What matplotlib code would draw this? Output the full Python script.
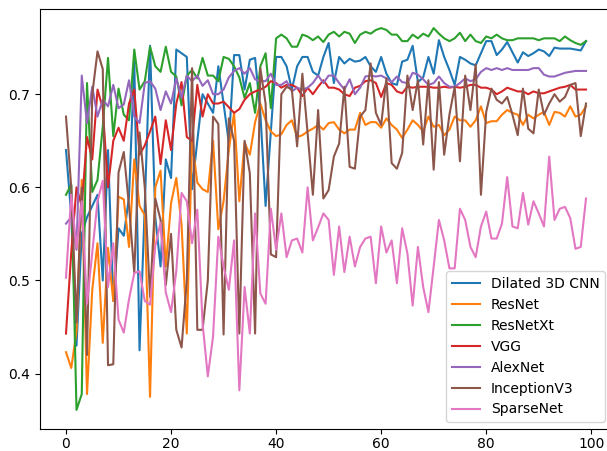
import numpy as np
import matplotlib
matplotlib.use('Agg')
import matplotlib.pyplot as plt

# accuracy per epoch
epochs = np.arange(100)

dilated_3d_cnn = [
    0.640, 0.570, 0.430, 0.550, 0.568, 0.580, 0.592, 0.500, 0.640, 0.478,
    0.556, 0.548, 0.590, 0.735, 0.425, 0.580, 0.752, 0.568, 0.515, 0.630,
    0.610, 0.748, 0.744, 0.740, 0.598, 0.650, 0.700, 0.690, 0.680, 0.730,
    0.690, 0.648, 0.742, 0.742, 0.705, 0.737, 0.739, 0.680, 0.580, 0.660,
    0.740, 0.740, 0.730, 0.705, 0.730, 0.740, 0.740, 0.724, 0.720, 0.740,
    0.755, 0.712, 0.740, 0.733, 0.738, 0.735, 0.736, 0.740, 0.730, 0.724,
    0.740, 0.722, 0.712, 0.710, 0.735, 0.737, 0.752, 0.713, 0.718, 0.740,
    0.722, 0.758, 0.740, 0.726, 0.710, 0.740, 0.737, 0.733, 0.731, 0.744,
    0.757, 0.757, 0.742, 0.748, 0.756, 0.745, 0.734, 0.745, 0.741, 0.744,
    0.748, 0.746, 0.741, 0.750, 0.749, 0.749, 0.749, 0.748, 0.747, 0.757,
]

resnet = [
    0.423, 0.406, 0.445, 0.608, 0.378, 0.490, 0.540, 0.433, 0.535, 0.478,
    0.590, 0.587, 0.536, 0.630, 0.580, 0.570, 0.375, 0.600, 0.618, 0.515,
    0.583, 0.610, 0.560, 0.443, 0.650, 0.605, 0.598, 0.595, 0.650, 0.555,
    0.585, 0.640, 0.680, 0.585, 0.648, 0.635, 0.670, 0.690, 0.672, 0.660,
    0.655, 0.657, 0.667, 0.672, 0.654, 0.656, 0.660, 0.663, 0.667, 0.662,
    0.669, 0.670, 0.662, 0.658, 0.662, 0.662, 0.680, 0.667, 0.670, 0.670,
    0.664, 0.674, 0.667, 0.662, 0.653, 0.662, 0.672, 0.667, 0.660, 0.676,
    0.665, 0.667, 0.656, 0.662, 0.676, 0.672, 0.672, 0.665, 0.672, 0.687,
    0.669, 0.671, 0.671, 0.678, 0.683, 0.680, 0.678, 0.667, 0.678, 0.674,
    0.678, 0.681, 0.667, 0.681, 0.680, 0.676, 0.687, 0.676, 0.678, 0.687,
]

resnetxt = [
    0.592, 0.603, 0.361, 0.378, 0.712, 0.595, 0.608, 0.665, 0.739, 0.655,
    0.706, 0.678, 0.672, 0.748, 0.705, 0.714, 0.751, 0.730, 0.724, 0.751,
    0.724, 0.719, 0.688, 0.720, 0.726, 0.717, 0.739, 0.720, 0.720, 0.714,
    0.740, 0.738, 0.730, 0.718, 0.696, 0.712, 0.680, 0.730, 0.744, 0.685,
    0.760, 0.764, 0.760, 0.751, 0.751, 0.764, 0.762, 0.758, 0.762, 0.756,
    0.764, 0.767, 0.762, 0.767, 0.765, 0.755, 0.764, 0.767, 0.765, 0.769,
    0.771, 0.769, 0.764, 0.764, 0.757, 0.757, 0.764, 0.760, 0.765, 0.762,
    0.771, 0.765, 0.760, 0.757, 0.760, 0.766, 0.757, 0.764, 0.757, 0.755,
    0.762, 0.760, 0.764, 0.760, 0.758, 0.758, 0.760, 0.760, 0.760, 0.760,
    0.758, 0.760, 0.760, 0.760, 0.757, 0.762, 0.758, 0.755, 0.753, 0.757,
]

vgg = [
    0.443, 0.530, 0.600, 0.580, 0.654, 0.630, 0.705, 0.685, 0.600, 0.650,
    0.664, 0.650, 0.690, 0.705, 0.635, 0.645, 0.660, 0.676, 0.625, 0.672,
    0.640, 0.690, 0.713, 0.654, 0.650, 0.710, 0.676, 0.700, 0.690, 0.690,
    0.692, 0.686, 0.680, 0.684, 0.694, 0.700, 0.703, 0.705, 0.708, 0.714,
    0.712, 0.707, 0.710, 0.710, 0.707, 0.698, 0.707, 0.700, 0.708, 0.715,
    0.707, 0.707, 0.705, 0.700, 0.698, 0.707, 0.709, 0.714, 0.715, 0.712,
    0.697, 0.712, 0.710, 0.703, 0.701, 0.708, 0.707, 0.708, 0.708, 0.708,
    0.707, 0.707, 0.708, 0.707, 0.708, 0.707, 0.708, 0.710, 0.710, 0.707,
    0.707, 0.705, 0.700, 0.703, 0.707, 0.705, 0.703, 0.703, 0.700, 0.703,
    0.701, 0.701, 0.703, 0.705, 0.707, 0.708, 0.710, 0.705, 0.705, 0.705,
]

alexnet = [
    0.561, 0.568, 0.533, 0.720, 0.669, 0.708, 0.676, 0.694, 0.687, 0.710,
    0.685, 0.689, 0.715, 0.676, 0.669, 0.712, 0.714, 0.706, 0.683, 0.703,
    0.690, 0.717, 0.696, 0.720, 0.714, 0.720, 0.709, 0.715, 0.700, 0.700,
    0.705, 0.718, 0.725, 0.728, 0.722, 0.728, 0.716, 0.714, 0.714, 0.722,
    0.710, 0.710, 0.714, 0.703, 0.707, 0.705, 0.707, 0.712, 0.720, 0.712,
    0.720, 0.720, 0.712, 0.705, 0.716, 0.700, 0.707, 0.719, 0.720, 0.719,
    0.720, 0.717, 0.713, 0.719, 0.713, 0.712, 0.723, 0.721, 0.716, 0.710,
    0.712, 0.719, 0.712, 0.708, 0.708, 0.712, 0.717, 0.714, 0.716, 0.724,
    0.728, 0.726, 0.728, 0.726, 0.728, 0.726, 0.726, 0.726, 0.726, 0.728,
    0.728, 0.721, 0.719, 0.719, 0.721, 0.723, 0.724, 0.725, 0.725, 0.725,
]

inception_v3 = [
    0.676, 0.600, 0.455, 0.600, 0.420, 0.700, 0.746, 0.727, 0.409, 0.410,
    0.616, 0.638, 0.580, 0.508, 0.659, 0.600, 0.482, 0.588, 0.565, 0.495,
    0.550, 0.447, 0.428, 0.500, 0.728, 0.447, 0.447, 0.500, 0.676, 0.668,
    0.442, 0.674, 0.650, 0.443, 0.650, 0.615, 0.443, 0.728, 0.690, 0.528,
    0.525, 0.700, 0.708, 0.705, 0.644, 0.722, 0.658, 0.592, 0.683, 0.588,
    0.597, 0.633, 0.647, 0.708, 0.622, 0.620, 0.676, 0.683, 0.733, 0.680,
    0.667, 0.717, 0.626, 0.620, 0.637, 0.720, 0.683, 0.715, 0.646, 0.715,
    0.619, 0.713, 0.635, 0.678, 0.708, 0.628, 0.720, 0.683, 0.732, 0.592,
    0.681, 0.706, 0.694, 0.690, 0.697, 0.678, 0.656, 0.706, 0.663, 0.658,
    0.705, 0.678, 0.690, 0.700, 0.692, 0.697, 0.710, 0.712, 0.655, 0.690,
]

sparsenet = [
    0.503, 0.592, 0.535, 0.585, 0.475, 0.530, 0.585, 0.607, 0.493, 0.540,
    0.458, 0.444, 0.480, 0.508, 0.510, 0.478, 0.474, 0.537, 0.562, 0.487,
    0.466, 0.510, 0.594, 0.585, 0.540, 0.576, 0.454, 0.397, 0.440, 0.547,
    0.515, 0.490, 0.543, 0.382, 0.493, 0.443, 0.572, 0.486, 0.475, 0.577,
    0.533, 0.572, 0.525, 0.543, 0.545, 0.530, 0.600, 0.543, 0.557, 0.572,
    0.565, 0.506, 0.558, 0.509, 0.547, 0.515, 0.536, 0.545, 0.547, 0.497,
    0.558, 0.530, 0.543, 0.497, 0.556, 0.529, 0.473, 0.536, 0.493, 0.466,
    0.515, 0.565, 0.543, 0.513, 0.513, 0.577, 0.565, 0.536, 0.525, 0.558,
    0.574, 0.545, 0.545, 0.561, 0.611, 0.558, 0.556, 0.594, 0.560, 0.585,
    0.572, 0.558, 0.633, 0.565, 0.577, 0.579, 0.567, 0.534, 0.536, 0.588,
]

series = [
    ('Dilated 3D CNN', dilated_3d_cnn),
    ('ResNet', resnet),
    ('ResNetXt', resnetxt),
    ('VGG', vgg),
    ('AlexNet', alexnet),
    ('InceptionV3', inception_v3),
    ('SparseNet', sparsenet),
]

fig = plt.figure(figsize=(6.07, 4.51), dpi=100)
# the original is cropped on the right, so the axes run past the canvas edge
ax = fig.add_axes([40 / 607, 22 / 451, 572 / 607, 420 / 451])

for name, vals in series:
    ax.plot(epochs, vals, label=name)

ax.set_xlim(-4.95, 103.95)
ax.set_ylim(0.3405, 0.7915)
ax.set_xticks([0, 20, 40, 60, 80, 100])
ax.set_yticks([0.4, 0.5, 0.6, 0.7])
ax.tick_params(axis='x', pad=2.5)  # keep the labels inside the short bottom margin
ax.legend(loc='lower right')

fig.savefig('out.png', dpi=100)
